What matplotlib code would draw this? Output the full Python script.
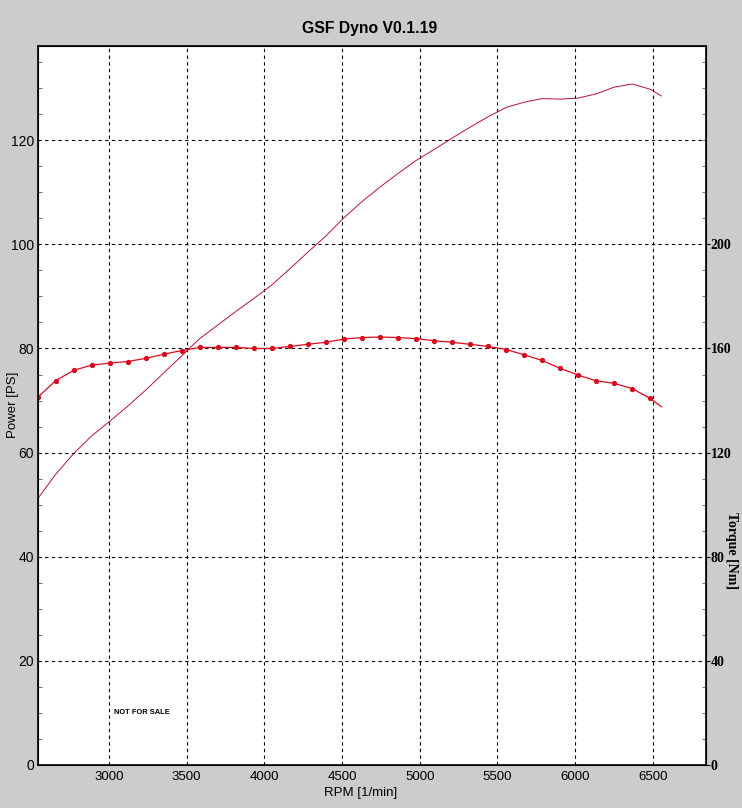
import numpy as np
from matplotlib import pyplot as plt
from matplotlib.ticker import MultipleLocator

# rpm der Messpunkte
rpm = [2540, 2656, 2772, 2888, 3004, 3120, 3236, 3352, 3468, 3584, 3700, 3816,
       3932, 4048, 4164, 4280, 4396, 4512, 4628, 4744, 4860, 4976, 5092, 5208,
       5324, 5440, 5556, 5672, 5788, 5904, 6020, 6136, 6252, 6368, 6484, 6556]

# Drehmoment [Nm] (rechte Achse)
torque = [141.2, 147.6, 151.6, 153.6, 154.4, 155.0, 156.2, 157.8, 159.2, 160.4,
          160.4, 160.4, 160.0, 160.0, 160.8, 161.6, 162.4, 163.6, 164.2, 164.4,
          164.2, 163.8, 163.0, 162.4, 161.6, 160.8, 159.6, 157.6, 155.4, 152.4,
          149.8, 147.6, 146.6, 144.6, 140.8, 137.6]

# Leistung [PS] (linke Achse)
power = [51.1, 55.8, 59.8, 63.2, 66.0, 68.9, 72.0, 75.3, 78.6, 81.9,
         84.5, 87.1, 89.6, 92.2, 95.3, 98.5, 101.6, 105.1, 108.2, 111.0,
         113.6, 116.1, 118.2, 120.4, 122.5, 124.5, 126.3, 127.3, 128.0, 127.9,
         128.1, 128.9, 130.2, 130.8, 129.8, 128.5]

x_ticks = [3000, 3500, 4000, 4500, 5000, 5500, 6000, 6500]
ps_ticks = [0, 20, 40, 60, 80, 100, 120]
nm_ticks = [0, 40, 80, 120, 160, 200]

bg = '#cccccc'
fig = plt.figure(figsize=(7.42, 8.08), dpi=100, facecolor=bg)
ax = fig.add_axes([38 / 742, 1 - 765 / 808, 668 / 742, 719 / 808])
ax.set_facecolor('white')

ax.set_xlim(2543, 6843)
ax.set_ylim(0, 138.1)
ax.set_xticks(x_ticks)
ax.set_yticks(ps_ticks)
ax.yaxis.set_minor_locator(MultipleLocator(5))
ax.tick_params(axis='x', length=0, pad=4, labelsize=9.5)
ax.tick_params(axis='y', which='major', length=0, pad=3, labelsize=10)
ax.tick_params(axis='y', which='minor', direction='in', length=3, width=0.6, color='#555555')
for lab in ax.get_xticklabels() + ax.get_yticklabels():
    lab.set_family('Liberation Sans')
ax.grid(True, which='major', color='black', linestyle=(0, (3, 3)), linewidth=0.8)
for s in ax.spines.values():
    s.set_linewidth(1.2)

ax.plot(rpm, power, '-', color='#b5123a', linewidth=0.7)

ax2 = ax.twinx()
ax2.set_ylim(0, 276.2)
ax2.set_yticks(nm_ticks)
ax2.yaxis.set_minor_locator(MultipleLocator(10))
ax2.tick_params(axis='y', which='major', direction='out', length=3, pad=0.5, labelsize=10)
ax2.tick_params(axis='y', which='minor', direction='in', length=3, width=0.6, color='#555555')
for lab in ax2.get_yticklabels():
    lab.set_family('Liberation Serif')
    lab.set_weight('bold')
ax2.plot(rpm, torque, '-', color='#dc0a1e', linewidth=0.9,
         marker='o', markersize=2.8, markevery=list(range(len(rpm) - 1)))

fig.text(370 / 742, 1 - 29 / 808, 'GSF Dyno V0.1.19', ha='center', va='center',
         fontsize=11.3, fontweight='bold', family='Liberation Sans')
fig.text(361 / 742, 1 - 793 / 808, 'RPM [1/min]', ha='center', va='center',
         fontsize=9.5, family='Liberation Sans')
fig.text(13 / 742, 1 - 405 / 808, 'Power [PS]', ha='center', va='center',
         rotation=90, fontsize=9.5, family='Liberation Sans')
fig.text(731.5 / 742, 1 - 550 / 808, 'Torque [Nm]', ha='center', va='center',
         rotation=-90, fontsize=10, fontweight='bold', family='Liberation Serif')
ax.text(3030, 10, 'NOT FOR SALE', fontsize=5.4, fontweight='bold',
        family='Liberation Sans', va='center')

plt.savefig('out.png', dpi=100, facecolor=bg)
